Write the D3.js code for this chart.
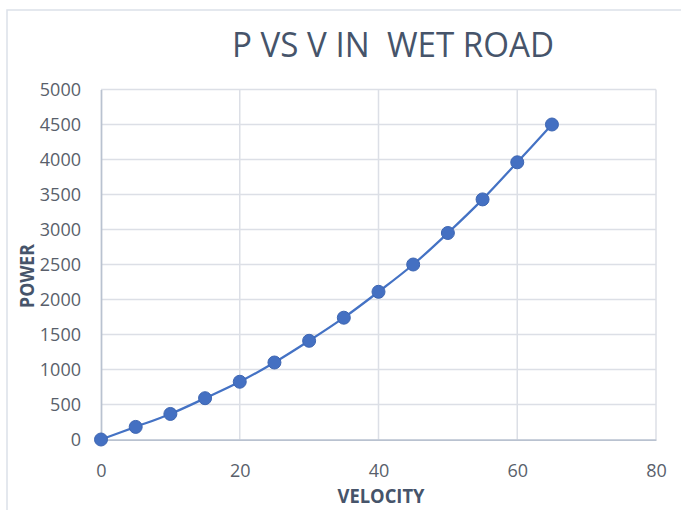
<!DOCTYPE html>
<html>
<head>
<meta charset="utf-8">
<script src="https://cdn.jsdelivr.net/npm/d3@7"></script>
<style>
  html, body { margin: 0; padding: 0; background: #ffffff; }
  svg { display: block; }
</style>
</head>
<body>
<svg id="chart" width="681" height="510"></svg>
<script>
// Power required vs. velocity on a wet road
const velocity = [0, 5, 10, 15, 20, 25, 30, 35, 40, 45, 50, 55, 60, 65];
const power = [0, 180, 365, 590, 825, 1100, 1410, 1740, 2110, 2500, 2950, 3430, 3960, 4500];
const xTicks = [0, 20, 40, 60, 80];
const yTicks = [0, 500, 1000, 1500, 2000, 2500, 3000, 3500, 4000, 4500, 5000];
const chartTitle = "P VS V IN  WET ROAD";
const xTitle = "VELOCITY";
const yTitle = "POWER";

const svg = d3.select("#chart");
const W = 681, H = 510;
const plot = { left: 101, right: 656, top: 89.5, bottom: 439.5 };
const font = "'Open Sans', 'Noto Sans', sans-serif";

// chart frame
svg.append("rect")
  .attr("x", 7).attr("y", 10)
  .attr("width", W + 20).attr("height", H + 20)
  .attr("fill", "#ffffff")
  .attr("stroke", "#dce1e9").attr("stroke-width", 1.5);

const x = d3.scaleLinear().domain([0, 80]).range([plot.left, plot.right]);
const y = d3.scaleLinear().domain([0, 5000]).range([plot.bottom, plot.top]);

// gridlines
svg.append("g")
  .selectAll("line.h")
  .data(yTicks.filter(d => d > 0))
  .join("line")
  .attr("x1", plot.left).attr("x2", plot.right)
  .attr("y1", d => y(d)).attr("y2", d => y(d))
  .attr("stroke", "#dcdfe6").attr("stroke-width", 1.5);

svg.append("g")
  .selectAll("line.v")
  .data(xTicks.filter(d => d > 0))
  .join("line")
  .attr("x1", d => x(d)).attr("x2", d => x(d))
  .attr("y1", plot.top).attr("y2", plot.bottom)
  .attr("stroke", "#dcdfe6").attr("stroke-width", 1.5);

// axes
const xAxis = svg.append("g")
  .attr("transform", `translate(0,${plot.bottom})`)
  .call(d3.axisBottom(x).tickValues(xTicks).tickSize(0));
const yAxis = svg.append("g")
  .attr("transform", `translate(${plot.left},0)`)
  .call(d3.axisLeft(y).tickValues(yTicks).tickSize(0).tickPadding(20).tickFormat(d3.format("d")));

[xAxis, yAxis].forEach(g => {
  g.select(".domain").attr("stroke", "#b9c2d0").attr("stroke-width", 1.75);
  g.selectAll("text")
    .attr("fill", "#595f6b")
    .style("font-family", font)
    .style("font-size", "18px");
});
xAxis.selectAll("text").attr("y", 37).attr("dy", null);

// data line (smoothed)
const line = d3.line()
  .x((d, i) => x(velocity[i]))
  .y(d => y(d))
  .curve(d3.curveCatmullRom.alpha(0.5));

svg.append("path")
  .datum(power)
  .attr("d", line)
  .attr("fill", "none")
  .attr("stroke", "#4472c4")
  .attr("stroke-width", 2.25);

svg.append("g")
  .selectAll("circle")
  .data(power)
  .join("circle")
  .attr("cx", (d, i) => x(velocity[i]))
  .attr("cy", d => y(d))
  .attr("r", 6.5)
  .attr("fill", "#4470c2")
  .attr("stroke", "#3e66b2")
  .attr("stroke-width", 1);

// titles
svg.append("text")
  .attr("x", 393).attr("y", 57)
  .attr("text-anchor", "middle")
  .attr("fill", "#46546a")
  .attr("textLength", 322)
  .attr("lengthAdjust", "spacingAndGlyphs")
  .style("white-space", "pre")
  .style("font-family", font)
  .style("font-size", "34px")
  .text(chartTitle);

svg.append("text")
  .attr("x", 381).attr("y", 503)
  .attr("text-anchor", "middle")
  .attr("fill", "#46546a")
  .attr("font-weight", "bold")
  .attr("textLength", 87)
  .attr("lengthAdjust", "spacingAndGlyphs")
  .style("font-family", font)
  .style("font-size", "19px")
  .text(xTitle);

svg.append("text")
  .attr("transform", "translate(34,276) rotate(-90)")
  .attr("text-anchor", "middle")
  .attr("fill", "#46546a")
  .attr("font-weight", "bold")
  .attr("textLength", 64)
  .attr("lengthAdjust", "spacingAndGlyphs")
  .style("font-family", font)
  .style("font-size", "19px")
  .text(yTitle);
</script>
</body>
</html>
